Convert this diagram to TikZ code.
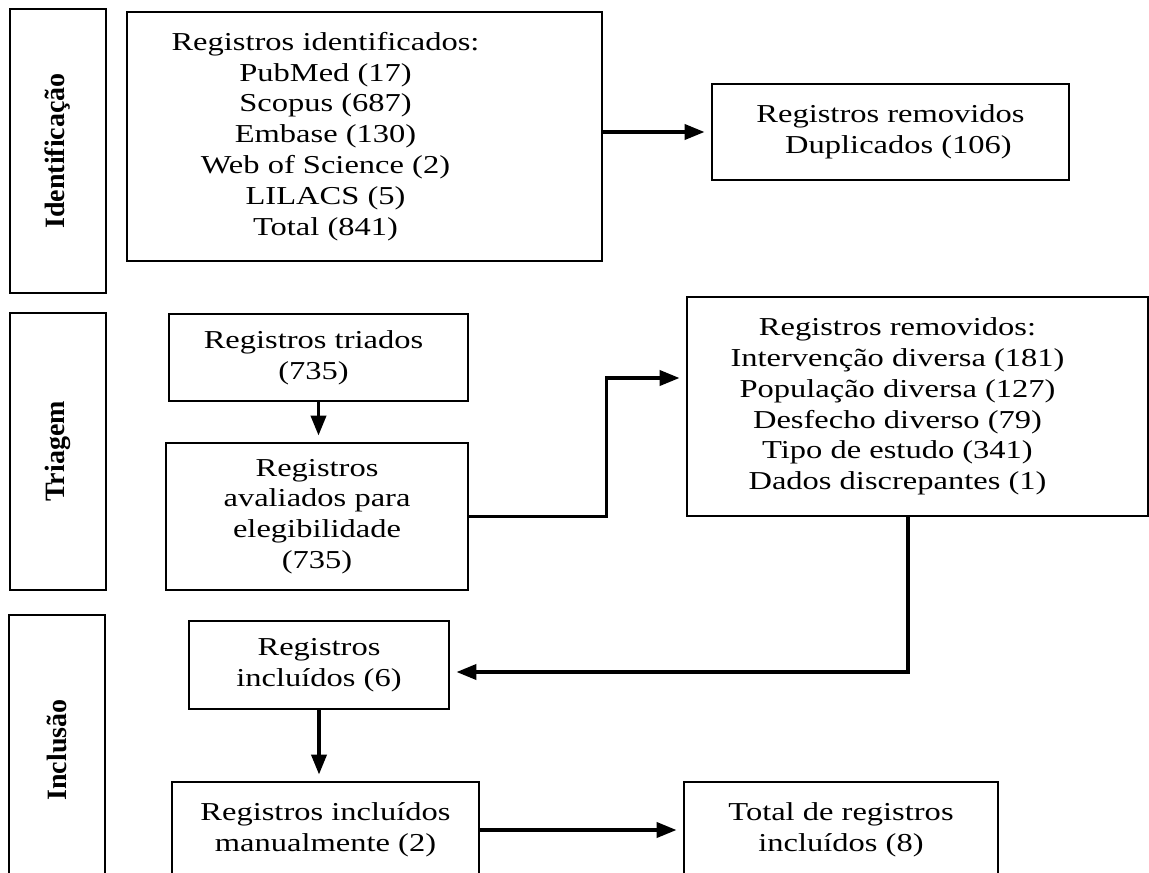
\documentclass[tikz,border=0pt]{standalone}
\usepackage{fontspec}
\setmainfont{Liberation Serif}[FakeStretch=1.26]
\newfontfamily\sidefont{Liberation Serif}
\usetikzlibrary{positioning,arrows.meta}
\newcommand{\txtleft}[2]{\begin{tabular}{@{}c@{}}#2\end{tabular}\hspace*{#1}}
\tikzset{
 blk/.style={rectangle, draw=black, line width=1.4pt, align=center, inner sep=2pt,
 font=\fontsize{12.9}{15.4}\selectfont},
 side/.style={rectangle, draw=black, line width=1.4pt, rotate=90, minimum height=48pt,
 font=\sidefont\bfseries\fontsize{14}{16}\selectfont},
 arr/.style={-{Triangle[length=10pt,width=7.5pt]}, draw=black, line width=1.9pt, shorten >=3pt},
}

\begin{document}
\begin{tikzpicture}[x=0.5pt, y=-0.5pt]
 \useasboundingbox (0,0) rectangle (1149,872);
 \clip (0,0) rectangle (1149,872);

 \node[side, minimum width=142pt] (sid) at (58,151) {Identificação};
 \node[side, minimum width=138.5pt] (stri) at (58,451.5) {Triagem};
 \node[side, minimum width=135pt] (sinc) at (57,750) {Inclusão};

 \node[blk, minimum width=237.5pt, minimum height=124.5pt] (ident) at (364.5,136.5)
 {\txtleft{39pt}{Registros identificados:\\PubMed (17)\\Scopus (687)\\Embase (130)\\Web of Science (2)\\LILACS (5)\\Total (841)}};
 \node[blk, minimum width=178.5pt, minimum height=48pt] (dup) at (890.5,132)
 {Registros removidos\\\hspace*{8pt}Duplicados (106)};
 \node[blk, minimum width=149.5pt, minimum height=43.5pt] (triados) at (318.5,357.5)
 {\txtleft{5pt}{Registros triados\\(735)}};
 \node[blk, minimum width=151pt, minimum height=73.5pt] (aval) at (317,516.5)
 {Registros\\avaliados para\\elegibilidade\\(735)};
 \node[blk, minimum width=230.5pt, minimum height=109.5pt] (remov) at (917.5,406.5)
 {\txtleft{20pt}{Registros removidos:\\Intervenção diversa (181)\\População diversa (127)\\Desfecho diverso (79)\\Tipo de estudo (341)\\Dados discrepantes (1)}};
 \node[blk, minimum width=130pt, minimum height=44pt] (incl) at (319,665)
 {Registros\\incluídos (6)};
 \node[blk, minimum width=153.5pt, minimum height=48pt] (manual) at (325.5,830)
 {Registros incluídos\\manualmente (2)};
 \node[blk, minimum width=157pt, minimum height=48pt] (total) at (841,830)
 {Total de registros\\incluídos (8)};

 \draw[arr] (ident.east |- dup.west) -- (dup.west);
 \draw[arr] (triados.south) -- (triados.south |- aval.north);
 \draw[arr] (aval.east) -- ++(137,0) |- ([yshift=14.25pt]remov.west);
 \draw[arr] ([xshift=-4.75pt]remov.south) |- ([yshift=-3.5pt]incl.east);
 \draw[arr] (incl.south) -- (incl.south |- manual.north);
 \draw[arr] (manual.east) -- (total.west);
\end{tikzpicture}
\end{document}
